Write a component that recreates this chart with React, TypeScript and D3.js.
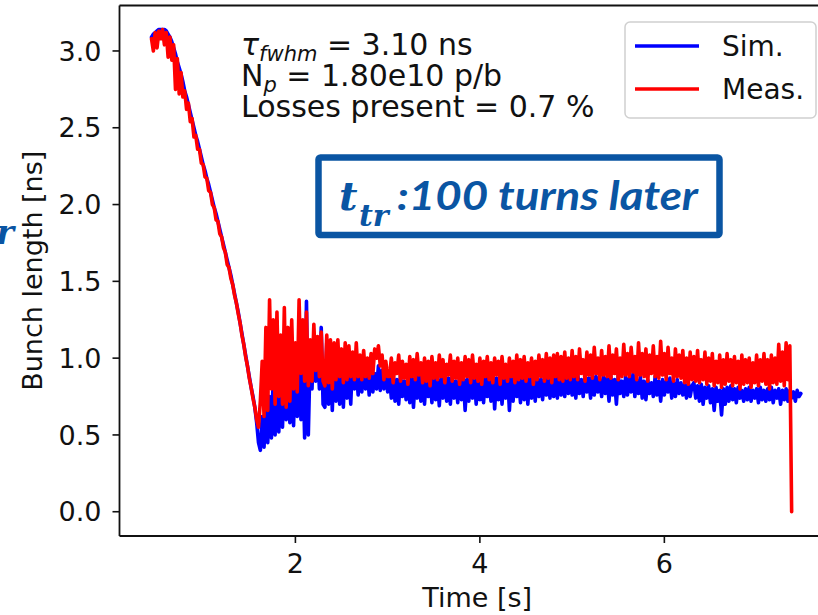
import React from 'react';
import * as d3 from 'd3';

const W = 818;
const H = 615;

// Time grid of the samples (s): start and step
const timeStart = 0.44;
const timeStep = 0.02;

// Simulated bunch length [ns]
const simLength = [
  // descent 0.44 - 1.62
  3.09, 3.11, 3.12, 3.13, 3.14, 3.14, 3.14, 3.14, 3.13, 3.11,
  3.09, 3.06, 3.02, 2.98, 2.93, 2.89, 2.85, 2.80, 2.74, 2.70,
  2.65, 2.60, 2.55, 2.50, 2.45, 2.41, 2.36, 2.31, 2.26, 2.22,
  2.17, 2.13, 2.08, 2.03, 1.98, 1.94, 1.89, 1.84, 1.79, 1.74,
  1.69, 1.64, 1.59, 1.54, 1.48, 1.42, 1.36, 1.30, 1.23, 1.16,
  1.09, 1.02, 0.95, 0.88, 0.81, 0.75, 0.68, 0.58, 0.45, 0.40,
  // 1.64 - 2.30
  0.62, 0.42, 0.72, 0.45, 0.75, 0.48, 0.90, 0.50, 1.24, 0.52,
  0.85, 0.55, 0.95, 0.60, 0.90, 0.58, 1.10, 0.56, 0.95, 0.62,
  1.20, 0.60, 1.00, 0.48, 1.37, 0.50, 1.02, 0.80, 1.15, 0.85,
  1.08, 0.80, 1.20, 0.70,
  // 2.32 - 3.00
  0.68, 1.10, 0.70, 1.05, 0.66, 1.02, 0.72, 1.05, 0.70, 0.98,
  0.68, 1.00, 0.74, 0.96, 0.70, 1.00, 0.80, 0.95, 0.76, 0.93,
  0.78, 0.98, 0.80, 0.92, 0.76, 0.93, 0.78, 0.90, 0.80, 0.95,
  0.79, 0.92, 0.80, 0.90, 0.78,
  // 3.02 - 4.98
  0.88, 0.74, 0.90, 0.72, 0.86, 0.70, 0.89, 0.75, 0.85, 0.73,
  0.90, 0.71, 0.87, 0.68, 0.88, 0.74, 0.91, 0.72, 0.86, 0.70,
  0.89, 0.75, 0.87, 0.71, 0.90, 0.73, 0.86, 0.69, 0.88, 0.74,
  0.91, 0.72, 0.87, 0.70, 0.89, 0.74, 0.85, 0.71, 0.90, 0.73,
  0.88, 0.66, 0.86, 0.72, 0.90, 0.74, 0.87, 0.70, 0.89, 0.73,
  0.86, 0.71, 0.90, 0.75, 0.88, 0.72, 0.91, 0.67, 0.87, 0.73,
  0.89, 0.70, 0.86, 0.74, 0.90, 0.66, 0.87, 0.72, 0.89, 0.75,
  0.86, 0.71, 0.90, 0.73, 0.88, 0.70, 0.87, 0.74, 0.89, 0.72,
  0.90, 0.75, 0.86, 0.73, 0.89, 0.76, 0.88, 0.74, 0.90, 0.75,
  0.87, 0.74, 0.91, 0.76, 0.88, 0.75, 0.89, 0.77, 0.87,
  // 5.00 - 6.30
  0.76, 0.88, 0.74, 0.90, 0.77, 0.86, 0.75, 0.89, 0.78, 0.87,
  0.74, 0.90, 0.76, 0.88, 0.78, 0.86, 0.75, 0.89, 0.77, 0.87,
  0.72, 0.88, 0.76, 0.86, 0.70, 0.89, 0.77, 0.85, 0.75, 0.88,
  0.76, 0.87, 0.78, 0.90, 0.75, 0.86, 0.77, 0.88, 0.74, 0.85,
  0.73, 0.86, 0.77, 0.84, 0.75, 0.88, 0.76, 0.85, 0.72, 0.86,
  0.76, 0.85, 0.78, 0.87, 0.74, 0.84, 0.75, 0.86, 0.77, 0.84,
  0.76, 0.83, 0.74, 0.84, 0.75, 0.82,
  // 6.32 - 7.48
  0.84, 0.74, 0.82, 0.72, 0.83, 0.70, 0.81, 0.74, 0.82, 0.71,
  0.80, 0.66, 0.81, 0.72, 0.79, 0.63, 0.80, 0.70, 0.81, 0.72,
  0.82, 0.73, 0.80, 0.71, 0.81, 0.74, 0.79, 0.72, 0.80, 0.73,
  0.81, 0.72, 0.79, 0.74, 0.80, 0.71, 0.81, 0.73, 0.79, 0.72,
  0.80, 0.73, 0.81, 0.71, 0.79, 0.74, 0.80, 0.70, 0.79, 0.73,
  0.80, 0.72, 0.79, 0.74, 0.78, 0.72, 0.79, 0.75, 0.77,
];

// Measured bunch length [ns]
const measLength = [
  // descent 0.44 - 1.62
  3.08, 3.00, 3.12, 3.02, 3.13, 3.08, 3.14, 3.04, 3.12, 2.96,
  3.09, 2.94, 3.04, 2.75, 2.95, 2.72, 2.86, 2.70, 2.74, 2.62,
  2.66, 2.54, 2.56, 2.44, 2.45, 2.36, 2.36, 2.27, 2.26, 2.18,
  2.17, 2.09, 2.08, 2.00, 1.98, 1.90, 1.89, 1.81, 1.79, 1.72,
  1.69, 1.61, 1.59, 1.52, 1.48, 1.41, 1.36, 1.29, 1.23, 1.15,
  1.09, 1.01, 0.95, 0.87, 0.81, 0.74, 0.68, 0.60, 0.55, 0.72,
  // 1.64 - 2.30
  0.98, 0.62, 1.20, 0.66, 1.38, 0.80, 1.25, 0.70, 1.30, 0.75,
  1.15, 0.70, 1.33, 0.68, 1.20, 0.72, 1.25, 0.80, 1.10, 0.78,
  1.38, 0.90, 1.25, 0.85, 1.30, 0.82, 1.12, 0.85, 1.22, 0.92,
  1.14, 0.88, 1.17, 0.85,
  // 2.32 - 3.00
  0.82, 1.15, 0.84, 1.12, 0.80, 1.10, 0.86, 1.12, 0.88, 1.06,
  0.84, 1.10, 0.86, 1.08, 0.88, 1.04, 0.86, 1.10, 0.88, 1.02,
  0.86, 1.05, 0.88, 1.00, 0.87, 1.03, 0.90, 1.06, 1.00, 1.08,
  0.95, 1.02, 0.86, 0.98, 0.88,
  // 3.02 - 4.98
  0.88, 1.00, 0.84, 0.97, 0.90, 1.02, 0.85, 0.98, 0.87, 0.96,
  0.83, 1.01, 0.88, 0.99, 0.86, 1.03, 0.89, 0.97, 0.84, 1.00,
  0.85, 0.98, 0.82, 1.01, 0.87, 0.97, 0.86, 1.02, 0.88, 0.99,
  0.84, 0.96, 0.89, 1.02, 0.85, 0.98, 0.87, 1.00, 0.83, 0.97,
  0.86, 1.01, 0.88, 0.99, 0.84, 1.02, 0.87, 0.96, 0.85, 1.00,
  0.83, 0.98, 0.88, 1.01, 0.86, 0.97, 0.84, 1.00, 0.89, 0.98,
  0.83, 1.01, 0.87, 0.96, 0.85, 1.00, 0.88, 0.98, 0.84, 1.02,
  0.86, 0.99, 0.87, 1.01, 0.85, 0.97, 0.88, 1.00, 0.83, 0.98,
  0.86, 1.02, 0.88, 0.99, 0.85, 1.03, 0.87, 1.00, 0.84, 1.02,
  0.88, 1.03, 0.86, 1.01, 0.85, 1.04, 0.87, 1.00, 0.86,
  // 5.00 - 6.30
  1.05, 0.88, 1.01, 0.86, 1.06, 0.90, 0.99, 0.85, 1.04, 0.89,
  1.02, 0.87, 1.07, 0.90, 1.00, 0.86, 1.05, 0.89, 1.01, 0.88,
  1.08, 0.87, 1.02, 0.90, 1.06, 0.86, 1.00, 0.88, 1.09, 0.89,
  1.03, 0.88, 1.07, 0.91, 1.01, 0.86, 1.10, 0.89, 1.03, 0.88,
  1.06, 0.85, 1.02, 0.90, 1.08, 0.88, 1.01, 0.87, 1.11, 0.89,
  1.03, 0.86, 1.07, 0.90, 1.00, 0.85, 1.06, 0.88, 1.02, 0.87,
  1.05, 0.84, 1.00, 0.83, 1.04, 0.86,
  // 6.32 - 7.38
  1.01, 0.85, 1.05, 0.84, 0.99, 0.86, 1.04, 0.83, 1.00, 0.85,
  1.03, 0.82, 0.98, 0.84, 1.02, 0.81, 0.99, 0.83, 1.03, 0.85,
  0.99, 0.82, 1.01, 0.84, 0.98, 0.80, 1.02, 0.83, 0.99, 0.84,
  1.00, 0.81, 0.97, 0.84, 1.02, 0.82, 0.99, 0.85, 1.03, 0.83,
  0.99, 0.80, 1.02, 0.84, 1.00, 0.83, 1.09, 0.85, 1.04, 0.82,
  1.10, 0.86, 1.08, 0.00,
];

const xTicks = [2, 4, 6];
const yTicks = [0.0, 0.5, 1.0, 1.5, 2.0, 2.5, 3.0];
const seriesNames = ['Sim.', 'Meas.'];
const seriesColors = ['#0000ff', '#ff0000'];

const MPL = "'DejaVu Sans', sans-serif";
const BOXBLUE = '#0a55a3';

export default function App() {
  const x = d3.scaleLinear().domain([0.093, 7.85]).range([119.5, 835]);
  const y = d3.scaleLinear().domain([-0.158, 3.296]).range([536, 5.5]);
  const line = d3
    .line<number>()
    .x((_, i) => x(timeStart + timeStep * i))
    .y((d) => y(d));

  const series = [simLength, measLength];
  const [x0, x1] = x.range();
  const [yb, yt] = y.range();

  return (
    <svg
      width={W}
      height={H}
      viewBox={`0 0 ${W} ${H}`}
      style={{ position: 'fixed', left: 0, top: 0, background: '#fff' }}
    >
      <rect x={0} y={0} width={W} height={H} fill="#fff" />
      {/* data */}
      <g fill="none" strokeWidth={3.6} strokeLinejoin="round" strokeLinecap="round">
        {series.map((s, k) => (
          <path key={k} d={line(s) || ''} stroke={seriesColors[k]} />
        ))}
      </g>

      {/* frame */}
      <g stroke="#111" strokeWidth={1.8} fill="none">
        <line x1={x0} x2={x0} y1={yt} y2={yb} />
        <line x1={x0} x2={x1} y1={yb} y2={yb} />
        <line x1={x0} x2={x1} y1={yt} y2={yt} />
        <line x1={x1} x2={x1} y1={yt} y2={yb} />
      </g>

      {/* y ticks */}
      <g fontFamily={MPL} fontSize={27} fill="#111">
        {yTicks.map((t) => (
          <g key={t}>
            <line x1={x0 - 7} x2={x0} y1={y(t)} y2={y(t)} stroke="#111" strokeWidth={1.6} />
            <text x={x0 - 18} y={y(t)} dy="0.36em" textAnchor="end">
              {t.toFixed(1)}
            </text>
          </g>
        ))}
      </g>

      {/* x ticks */}
      <g fontFamily={MPL} fontSize={27} fill="#111">
        {xTicks.map((t) => (
          <g key={t}>
            <line x1={x(t)} x2={x(t)} y1={yb} y2={yb + 7} stroke="#111" strokeWidth={1.6} />
            <text x={x(t)} y={yb + 37} textAnchor="middle">
              {t}
            </text>
          </g>
        ))}
      </g>

      {/* axis labels */}
      <text x={(x0 + x1) / 2} y={607} textAnchor="middle" fontFamily={MPL} fontSize={27} fill="#111">
        Time [s]
      </text>
      <text
        transform={`translate(42, ${(yt + yb) / 2}) rotate(-90)`}
        textAnchor="middle"
        fontFamily={MPL}
        fontSize={27}
        fill="#111"
      >
        Bunch length [ns]
      </text>

      {/* annotation */}
      <g fontFamily={MPL} fontSize={30} fill="#111">
        <text x={241} y={55}>
          <tspan fontStyle="italic">τ</tspan>
          <tspan fontStyle="italic" fontSize={21} dy={6}>fwhm</tspan>
          <tspan dy={-6}> = 3.10 ns</tspan>
        </text>
        <text x={241} y={86}>
          <tspan>N</tspan>
          <tspan fontStyle="italic" fontSize={21} dy={6}>p</tspan>
          <tspan dy={-6}> = 1.80e10 p/b</tspan>
        </text>
        <text x={241} y={117}>Losses present = 0.7 %</text>
      </g>

      {/* legend */}
      <g>
        <rect x={625} y={22} width={191} height={96} rx={5} ry={5} fill="#fff" fillOpacity={0.8} stroke="#d0d0d0" strokeWidth={1.5} />
        {seriesNames.map((n, k) => (
          <g key={n}>
            <line x1={635} x2={699} y1={46 + 43 * k} y2={46 + 43 * k} stroke={seriesColors[k]} strokeWidth={3.6} />
            <text x={722} y={56 + 43 * k} fontFamily={MPL} fontSize={28} fill="#111">
              {n}
            </text>
          </g>
        ))}
      </g>

      {/* highlighted box */}
      <g>
        <rect x={318.5} y={157.5} width={401} height={77.5} rx={2} fill="#fff" stroke={BOXBLUE} strokeWidth={6.5} />
        <text x={339} y={210} fill={BOXBLUE} fontFamily="'DejaVu Serif', serif" fontStyle="italic" fontWeight="bold" fontSize={40}>
          t
        </text>
        <text x={359} y={226} fill={BOXBLUE} fontFamily="'DejaVu Serif', serif" fontStyle="italic" fontWeight="bold" fontSize={30}>
          tr
        </text>
        <text
          x={397}
          y={210}
          fill={BOXBLUE}
          fontFamily="Lato, 'Open Sans', sans-serif"
          fontStyle="italic"
          fontWeight="bold"
          fontSize={40}
          textLength={301}
          lengthAdjust="spacingAndGlyphs"
        >
          :100 turns later
        </text>
      </g>

      {/* clipped fragment at the left edge */}
      <text x={-4} y={244} fill={BOXBLUE} fontFamily="'DejaVu Serif', serif" fontStyle="italic" fontWeight="bold" fontSize={34}>
        r
      </text>
    </svg>
  );
}
